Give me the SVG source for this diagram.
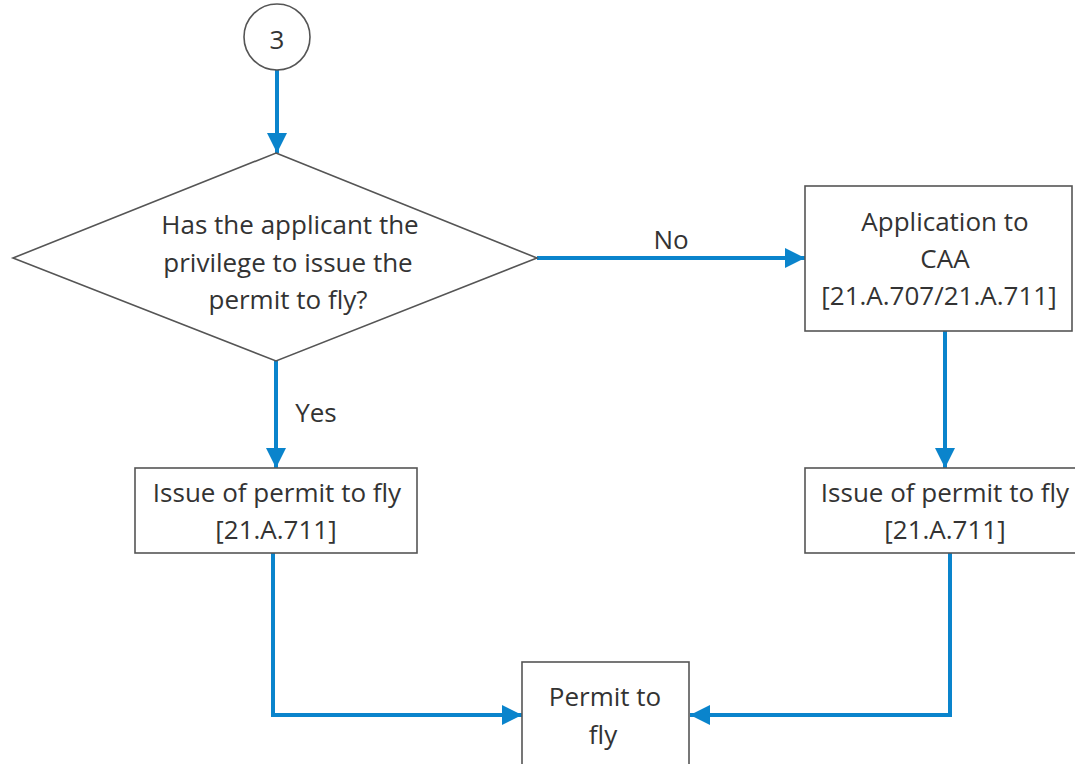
<svg xmlns="http://www.w3.org/2000/svg" width="1075" height="764" viewBox="0 0 1075 764">
<style>
.n{fill:#fff;stroke:#555;stroke-width:1.6}
.t{font-family:"Open Sans","Liberation Sans",sans-serif;font-size:26px;fill:#333;text-anchor:middle}
.c{fill:none;stroke:#0a84cc;stroke-width:4}
</style>
<defs>
<marker id="ah" viewBox="0 0 10 10" refX="10" refY="5" markerUnits="userSpaceOnUse" markerWidth="20" markerHeight="22" orient="auto">
<path d="M0,0 L10,5 L0,10 Z" fill="#0a84cc"/>
</marker>
</defs>
<rect width="1075" height="764" fill="#fff"/>
<g id="connectors">
<line class="c" x1="277" y1="70" x2="277" y2="153" marker-end="url(#ah)"/>
<line class="c" x1="537" y1="258" x2="805" y2="258" marker-end="url(#ah)"/>
<line class="c" x1="276" y1="361" x2="276" y2="468" marker-end="url(#ah)"/>
<line class="c" x1="945" y1="331" x2="945" y2="468" marker-end="url(#ah)"/>
<polyline class="c" points="273,553 273,715 522,715" marker-end="url(#ah)"/>
<polyline class="c" points="950,553 950,715 690,715" marker-end="url(#ah)"/>
<text class="t" x="671" y="249">No</text>
<text class="t" x="316" y="422">Yes</text>
</g>
<g id="start">
<circle class="n" cx="277" cy="37" r="33"/>
<text class="t" x="277" y="49">3</text>
</g>
<g id="decision">
<polygon class="n" points="276,153 537,258 276,361 13,258"/>
<text class="t" x="290" y="234">Has the applicant the</text>
<text class="t" x="288" y="272">privilege to issue the</text>
<text class="t" x="288" y="309">permit to fly?</text>
</g>
<g id="application">
<rect class="n" x="805" y="186" width="267" height="145"/>
<text class="t" x="945" y="231">Application to</text>
<text class="t" x="945" y="268">CAA</text>
<text class="t" x="939" y="305">[21.A.707/21.A.711]</text>
</g>
<g id="issue-left">
<rect class="n" x="135" y="468" width="282" height="85"/>
<text class="t" x="277" y="502">Issue of permit to fly</text>
<text class="t" x="276" y="539">[21.A.711]</text>
</g>
<g id="issue-right">
<rect class="n" x="805" y="468" width="275" height="85"/>
<text class="t" x="945" y="502">Issue of permit to fly</text>
<text class="t" x="945" y="539">[21.A.711]</text>
</g>
<g id="permit">
<rect class="n" x="522" y="662" width="167" height="110"/>
<text class="t" x="605" y="706">Permit to</text>
<text class="t" x="603" y="744">fly</text>
</g>
</svg>
